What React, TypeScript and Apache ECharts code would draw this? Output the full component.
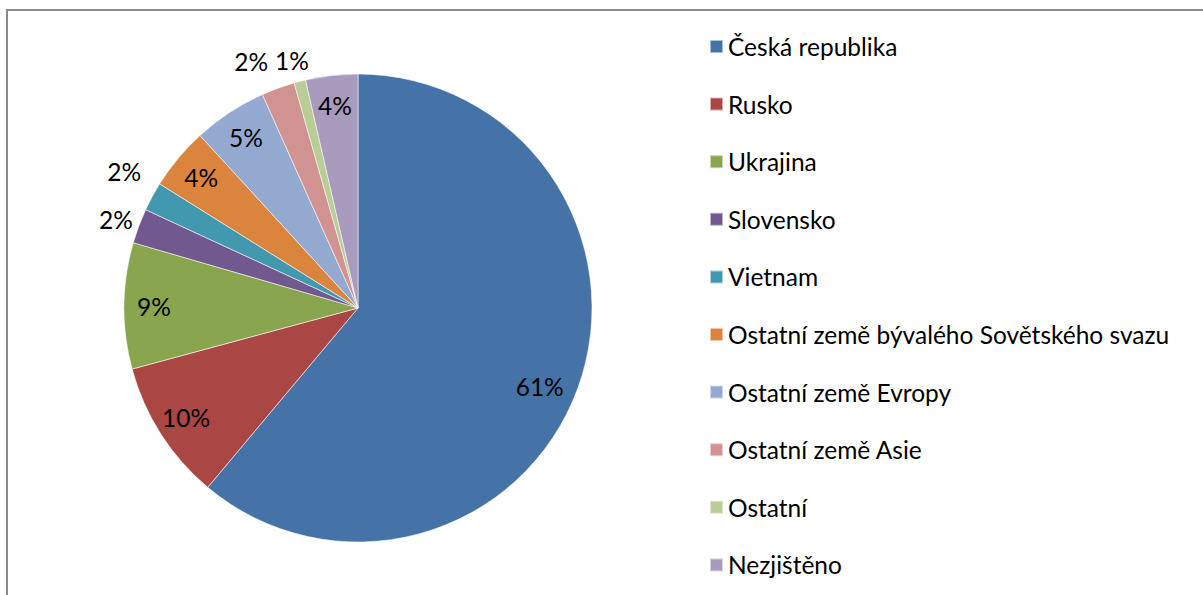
import React, { useEffect, useRef } from "react";
import * as echarts from "echarts";

const categories = [
  "Česká republika",
  "Rusko",
  "Ukrajina",
  "Slovensko",
  "Vietnam",
  "Ostatní země bývalého Sovětského svazu",
  "Ostatní země Evropy",
  "Ostatní země Asie",
  "Ostatní",
  "Nezjištěno",
];
const shares = [61.1, 9.7, 8.7, 2.4, 2.0, 4.3, 5.1, 2.3, 0.8, 3.6];
const colors = [
  "#4572A7",
  "#AA4643",
  "#89A54E",
  "#71588F",
  "#4198AF",
  "#DB843D",
  "#93A9CF",
  "#D19392",
  "#B9CD96",
  "#A99BBD",
];
// which labels sit outside the pie
const outsideLabel = [false, false, false, true, true, false, false, true, true, false];
// small label nudges [dx, dy] to follow the reference's label placement
const labelNudge = [
  [-10, 9],
  [0, 0],
  [0, 0],
  [7, 5],
  [0, -10],
  [0, 0],
  [0, 0],
  [-16, 3],
  [0, 10],
  [0, 0],
];

const FONT = "Lato, 'Liberation Sans', sans-serif";
const FS = 24.5;
const CENTER = [358, 308];
const R = 234;

export default function App() {
  const ref = useRef<HTMLDivElement>(null);
  useEffect(() => {
    if (!ref.current) return;
    const chart = echarts.init(ref.current, undefined, { renderer: "svg" });
    const fmt = (p: any) => Math.round(p.value) + "%";
    const baseData = categories.map((name, i) => ({
      name,
      value: shares[i],
      itemStyle: { color: colors[i] },
    }));
    const labelData = (outside: boolean) =>
      categories.map((name, i) => ({
        name,
        value: shares[i],
        label: { show: outsideLabel[i] === outside },
      }));
    const overlay = {
      type: "pie",
      center: CENTER,
      startAngle: 90,
      clockwise: true,
      silent: true,
      animation: false,
      itemStyle: { color: "rgba(0,0,0,0)", borderWidth: 0 },
      labelLine: { show: false },
      emphasis: { disabled: true },
      avoidLabelOverlap: false,
      label: {
        position: "inside",
        formatter: fmt,
        fontFamily: FONT,
        fontSize: FS,
        color: "#000",
      },
      labelLayout: (p: any) => ({
        dx: labelNudge[p.dataIndex][0],
        dy: labelNudge[p.dataIndex][1],
      }),
    };
    chart.setOption({
      animation: false,
      graphic: [
        {
          type: "rect",
          shape: { x: 7, y: 10, width: 1400, height: 800 },
          style: { fill: "none", stroke: "#8a8a8a", lineWidth: 2 },
          silent: true,
          z: -10,
        },
      ],
      legend: {
        orient: "vertical",
        left: 704,
        top: 29,
        height: 566,
        itemWidth: 13,
        itemHeight: 13,
        itemGap: 32.6,
        icon: "rect",
        selectedMode: false,
        data: categories,
        textStyle: {
          fontFamily: FONT,
          fontSize: FS,
          color: "#000",
        },
      },
      series: [
        {
          type: "pie",
          center: CENTER,
          radius: R,
          startAngle: 90,
          clockwise: true,
          silent: true,
          data: baseData,
          label: { show: false },
          labelLine: { show: false },
          itemStyle: { borderColor: "rgba(255,255,255,0.55)", borderWidth: 1 },
          emphasis: { disabled: true },
        },
        { ...overlay, radius: [191, 211], data: labelData(false) },
        { ...overlay, radius: [250, 276], data: labelData(true) },
      ],
    });
    return () => chart.dispose();
  }, []);
  return (
    <div
      ref={ref}
      style={{
        position: "fixed",
        left: 0,
        top: 0,
        width: 1203,
        height: 595,
        background: "#fff",
      }}
    />
  );
}
